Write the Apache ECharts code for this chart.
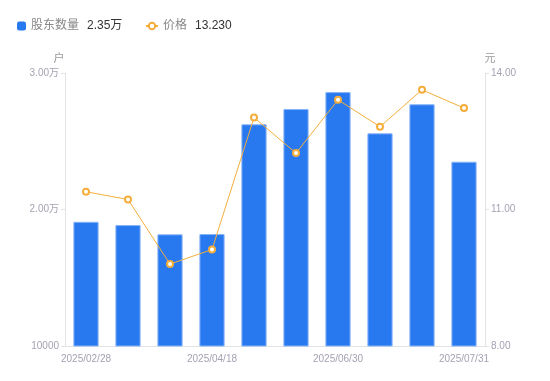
<!DOCTYPE html>
<html><head><meta charset="utf-8">
<script src="https://cdn.jsdelivr.net/npm/echarts@6/dist/echarts.min.js"></script>
<style>html,body{margin:0;padding:0;background:#fff}#c{width:550px;height:381px}</style>
</head><body><div id="c"></div>
<script>
const categories = ['2025/02/28','2025/03/10','2025/03/31','2025/04/18','2025/04/30','2025/05/20','2025/06/30','2025/07/10','2025/07/20','2025/07/31'];
const holders = [19100, 18860, 18180, 18200, 26240, 27360, 28600, 25580, 27710, 23500];
const prices = [11.39, 11.22, 9.80, 10.12, 13.02, 12.24, 13.41, 12.82, 13.63, 13.23];
const leftTicks = [10000, 20000, 30000];
const rightTicks = [8, 11, 14];

const fmtWan = v => v >= 20000 ? (v/10000).toFixed(2) + '万' : String(v);
const chart = echarts.init(document.getElementById('c'), null, {renderer:'canvas'});
const axisLabelColor = '#a3a3b3';
const legendRich = {n:{color:'#888', fontSize:12, padding:[0,8,0,0]}, v:{color:'#333', fontSize:12}};
chart.setOption({
  animation:false,
  textStyle:{fontFamily:'"Liberation Sans", Arial, "Noto Sans CJK SC", sans-serif'},
  legend:[{
    left:12, top:15, itemWidth:9, itemHeight:9,
    data:[{name:'股东数量', icon:'roundRect'}],
    itemStyle:{borderWidth:0},
    formatter: name => '{n|' + name + '}{v|' + (holders[holders.length-1]/10000).toFixed(2) + '万}',
    textStyle:{rich:legendRich}
  },{
    left:140, top:15, itemWidth:12, itemHeight:8,
    data:[{name:'价格'}],
    formatter: name => '{n|' + name + '}{v|' + prices[prices.length-1].toFixed(3) + '}',
    textStyle:{rich:legendRich}
  }],
  grid:{left:65, right:65, top:73, bottom:35},
  xAxis:{
    type:'category', data:categories,
    axisLine:{lineStyle:{color:'#e3e3e3'}},
    axisTick:{show:false},
    axisLabel:{color:axisLabelColor, fontSize:10, interval:2, margin:8}
  },
  yAxis:[
    {type:'value', name:'户', min:leftTicks[0], max:leftTicks[2], interval:10000,
     nameTextStyle:{color:'#999', fontSize:11, padding:[0,12,0,0]}, nameGap:9,
     axisLine:{show:true, lineStyle:{color:'#e3e3e3'}},
     axisTick:{show:true, length:4, lineStyle:{color:'#e3e3e3'}},
     splitLine:{show:false},
     axisLabel:{color:axisLabelColor, fontSize:10, margin:6, formatter:fmtWan}},
    {type:'value', name:'元', min:rightTicks[0], max:rightTicks[2], interval:3,
     nameTextStyle:{color:'#999', fontSize:11, padding:[0,0,0,10]}, nameGap:9,
     axisLine:{show:true, lineStyle:{color:'#e3e3e3'}},
     axisTick:{show:true, length:4, lineStyle:{color:'#e3e3e3'}},
     splitLine:{show:false},
     axisLabel:{color:axisLabelColor, fontSize:10, margin:6, formatter:v => v.toFixed(2)}}
  ],
  series:[
    {name:'股东数量', type:'bar', data:holders, barWidth:'60%', yAxisIndex:0,
     itemStyle:{color:'#2878f0', borderColor:'#86b4f7', borderWidth:1}},
    {name:'价格', type:'line', data:prices, yAxisIndex:1, symbol:'circle', symbolSize:6,
     lineStyle:{color:'#f5ad3c', width:1},
     itemStyle:{color:'#fff', borderColor:'#f5ad3c', borderWidth:2}}
  ]
});
</script></body></html>
